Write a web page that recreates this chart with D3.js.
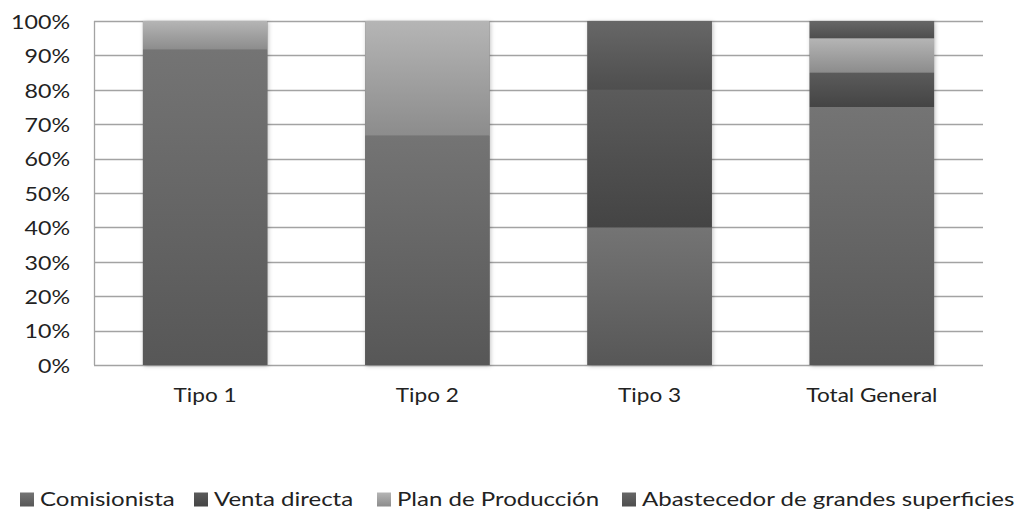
<!DOCTYPE html>
<html>
<head>
<meta charset="utf-8">
<script src="https://cdn.jsdelivr.net/npm/d3@7"></script>
<style>
  html, body { margin: 0; padding: 0; background: #fff; }
  svg { display: block; font-family: Lato, "Open Sans", sans-serif; }
</style>
</head>
<body>
<svg id="chart" width="1024" height="512"></svg>
<script>
// Categories and series (share of each channel per type, in %)
const categories = ["Tipo 1", "Tipo 2", "Tipo 3", "Total General"];
const seriesNames = ["Comisionista", "Venta directa", "Plan de Producción", "Abastecedor de grandes superficies"];
const comisionista = [91.7, 66.7, 40, 75];
const ventaDirecta = [0, 0, 40, 10];
const planProduccion = [8.3, 33.3, 0, 10];
const abastecedor = [0, 0, 20, 5];
const tickLabels = ["0%", "10%", "20%", "30%", "40%", "50%", "60%", "70%", "80%", "90%", "100%"];

const seriesValues = [comisionista, ventaDirecta, planProduccion, abastecedor];
// top / bottom shades of each series' vertical gradient
const seriesShades = [
  ["#747474", "#575757"],
  ["#5b5b5b", "#444444"],
  ["#b5b5b5", "#8c8c8c"],
  ["#676767", "#4e4e4e"]
];

const svg = d3.select("#chart");
const margin = { left: 94, right: 1024 - 983, top: 21, bottom: 512 - 365 };
const W = 1024, H = 512;
const FONT = 20;

// widen glyphs a little, keeping each label's anchor in place
function widen(sel, k) {
  sel.each(function () {
    const w = this.getComputedTextLength();
    d3.select(this).attr("textLength", w * k).attr("lengthAdjust", "spacingAndGlyphs");
  });
}

const x = d3.scaleBand().domain(categories).range([margin.left, W - margin.right])
  .paddingInner(0.44).paddingOuter(0.22);
const y = d3.scaleLinear().domain([0, 100]).range([H - margin.bottom, margin.top]);

const defs = svg.append("defs");
seriesShades.forEach((s, i) => {
  const g = defs.append("linearGradient").attr("id", "grad" + i)
    .attr("x1", 0).attr("y1", 0).attr("x2", 0).attr("y2", 1);
  g.append("stop").attr("offset", "0%").attr("stop-color", s[0]);
  g.append("stop").attr("offset", "100%").attr("stop-color", s[1]);
});
const shadow = defs.append("filter").attr("id", "shadow")
  .attr("x", "-10%").attr("y", "-10%").attr("width", "120%").attr("height", "120%");
shadow.append("feDropShadow").attr("dx", 1).attr("dy", 1).attr("stdDeviation", 2)
  .attr("flood-color", "#000").attr("flood-opacity", 0.25);

// Gridlines
const ticks = d3.range(0, 101, 10);
svg.append("g").selectAll("line").data(ticks).join("line")
  .attr("x1", margin.left).attr("x2", W - margin.right)
  .attr("y1", d => Math.round(y(d)) + 0.5).attr("y2", d => Math.round(y(d)) + 0.5)
  .attr("stroke", "#a3a3a3").attr("stroke-width", 1.3);

// Left axis line
svg.append("line")
  .attr("x1", margin.left + 0.5).attr("x2", margin.left + 0.5)
  .attr("y1", y(100)).attr("y2", y(0))
  .attr("stroke", "#a3a3a3").attr("stroke-width", 1.3);

// Y axis labels
const yAxis = d3.axisLeft(y).tickValues(ticks).tickSize(0).tickPadding(24)
  .tickFormat((d, i) => tickLabels[i]);
const yg = svg.append("g").attr("transform", `translate(${margin.left},0)`).call(yAxis);
yg.select(".domain").remove();
yg.selectAll("text").attr("font-size", FONT).attr("fill", "#222").attr("font-family", "Lato, sans-serif")
  .attr("dy", "0.36em").call(widen, 1.16);

// Stacked bars
const stackData = categories.map((c, ci) => {
  const row = { cat: c };
  seriesNames.forEach((s, si) => row[s] = seriesValues[si][ci]);
  return row;
});
const stacked = d3.stack().keys(seriesNames)(stackData);

const barsG = svg.append("g");
// shadow behind each whole bar
barsG.selectAll("rect.shadow").data(categories).join("rect")
  .attr("x", d => x(d)).attr("width", x.bandwidth())
  .attr("y", y(100)).attr("height", y(0) - y(100))
  .attr("fill", "#666").attr("filter", "url(#shadow)");

stacked.forEach((layer, si) => {
  barsG.append("g").selectAll("rect").data(layer.filter(d => d[1] - d[0] > 0)).join("rect")
    .attr("x", d => x(d.data.cat))
    .attr("width", x.bandwidth())
    .attr("y", d => y(d[1]))
    .attr("height", d => y(d[0]) - y(d[1]))
    .attr("fill", `url(#grad${si})`);
});

// Category labels
const xAxis = d3.axisBottom(x).tickSize(0).tickPadding(23);
const xg = svg.append("g").attr("transform", `translate(0,${y(0)})`).call(xAxis);
xg.select(".domain").remove();
xg.selectAll("text").attr("font-size", FONT).attr("fill", "#222").attr("font-family", "Lato, sans-serif")
  .call(widen, 1.13);

// Legend
const legendX = [20, 194, 377, 622];
const legend = svg.append("g").selectAll("g").data(seriesNames).join("g")
  .attr("transform", (d, i) => `translate(${legendX[i]},492)`);
legend.append("rect").attr("y", 0.5).attr("width", 14).attr("height", 14)
  .attr("fill", (d, i) => `url(#grad${i})`);
legend.append("text").attr("x", 20).attr("y", 13.5)
  .attr("font-size", FONT).attr("fill", "#222").attr("font-family", "Lato, sans-serif")
  .text(d => d)
  .call(widen, 1.2);
</script>
</body>
</html>
